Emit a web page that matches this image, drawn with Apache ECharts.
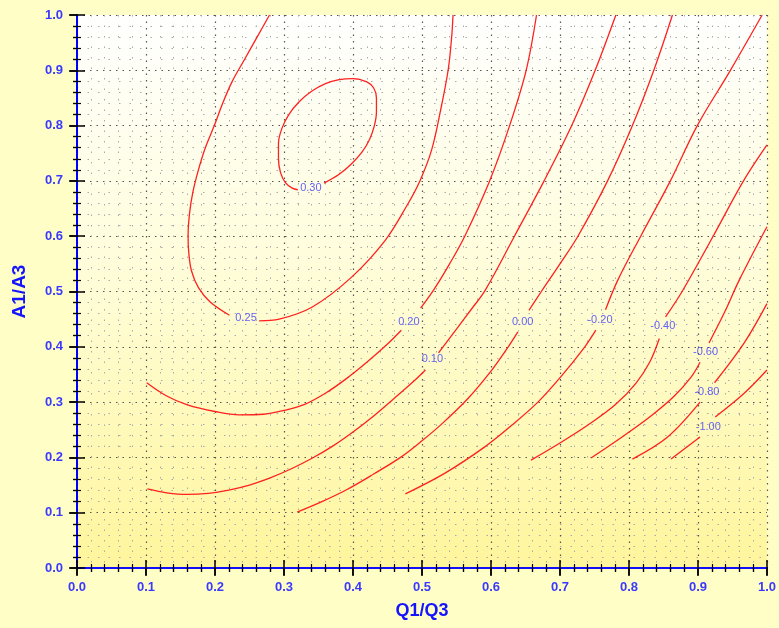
<!DOCTYPE html>
<html>
<head>
<meta charset="utf-8">
<script src="https://cdn.jsdelivr.net/npm/echarts@6/dist/echarts.min.js"></script>
<style>
  html, body { margin: 0; padding: 0; background: #fffec6; }
  #chart { width: 779px; height: 628px; }
</style>
</head>
<body>
<div id="chart"></div>
<script>
// tick labels for both axes
const tickLabels = ['0.0','0.1','0.2','0.3','0.4','0.5','0.6','0.7','0.8','0.9','1.0'];

// contour levels and where their labels sit
const levels = ['0.30','0.25','0.20','0.10','0.00','-0.20','-0.40','-0.60','-0.80','-1.00'];
const labelPts = [[0.339,0.687],[0.245,0.452],[0.481,0.445],[0.515,0.378],[0.646,0.445],
                  [0.758,0.448],[0.849,0.438],[0.911,0.391],[0.913,0.318],[0.915,0.255]];

// contour lines [Q1/Q3, A1/A3], null = gap for the label
const c030 = [[0.358,0.696],[0.380,0.712],[0.398,0.731],[0.413,0.752],[0.424,0.775],[0.431,0.800],
              [0.434,0.825],[0.434,0.850],[0.430,0.868],[0.420,0.879],[0.400,0.885],[0.380,0.883],
              [0.360,0.876],[0.340,0.862],[0.322,0.843],[0.307,0.820],[0.297,0.795],[0.292,0.768],
              [0.292,0.740],[0.295,0.715],[0.302,0.697],[0.312,0.687],[0.320,0.684]];
const c025 = [[0.279,1.0],[0.261,0.96],[0.243,0.92],[0.225,0.88],[0.211,0.84],[0.199,0.80],
              [0.186,0.76],[0.176,0.72],[0.168,0.68],[0.163,0.64],[0.161,0.60],[0.162,0.57],
              [0.166,0.537],[0.176,0.507],[0.193,0.481],[0.221,0.457],null,[0.264,0.447],
              [0.293,0.450],[0.341,0.472],[0.398,0.526],[0.447,0.593],[0.478,0.655],[0.497,0.70],
              [0.514,0.756],[0.527,0.828],[0.538,0.901],[0.543,0.960],[0.545,1.0]];
const c020 = [[0.101,0.335],[0.13,0.311],[0.16,0.295],[0.20,0.283],[0.235,0.277],[0.27,0.278],
              [0.30,0.285],[0.33,0.296],[0.36,0.316],[0.39,0.342],[0.42,0.372],[0.45,0.405],
              [0.47,0.43],null,[0.498,0.470],[0.517,0.503],[0.540,0.550],[0.562,0.6],[0.598,0.7],
              [0.627,0.8],[0.651,0.9],[0.666,1.0]];
const c010 = [[0.102,0.143],[0.13,0.136],[0.16,0.133],[0.19,0.135],[0.22,0.141],[0.25,0.150],
              [0.28,0.163],[0.31,0.179],[0.34,0.198],[0.37,0.220],[0.40,0.246],[0.43,0.275],
              [0.46,0.307],[0.49,0.340],[0.505,0.358],null,[0.524,0.389],[0.550,0.432],[0.571,0.467],
              [0.592,0.503],[0.634,0.6],[0.677,0.7],[0.717,0.8],[0.751,0.9],[0.781,1.0]];
const c000 = [[0.319,0.101],[0.355,0.120],[0.390,0.141],[0.430,0.170],[0.470,0.201],[0.500,0.230],
              [0.530,0.262],[0.567,0.307],[0.600,0.356],[0.625,0.400],[0.639,0.427],null,
              [0.655,0.466],[0.673,0.5],[0.700,0.550],[0.726,0.6],[0.769,0.7],[0.805,0.8],
              [0.836,0.9],[0.863,1.0]];
const cm020 = [[0.476,0.134],[0.534,0.172],[0.591,0.219],[0.630,0.258],[0.668,0.300],[0.702,0.347],
               [0.736,0.400],[0.752,0.430],null,[0.766,0.467],[0.784,0.521],[0.817,0.6],[0.860,0.7],
               [0.899,0.8],[0.947,0.9],[0.993,1.0]];
const cm040 = [[0.658,0.195],[0.70,0.226],[0.74,0.258],[0.78,0.295],[0.81,0.334],[0.83,0.372],
               [0.844,0.415],null,[0.853,0.454],[0.877,0.5],[0.922,0.6],[0.966,0.7],[1.0,0.765]];
const cm060 = [[0.745,0.199],[0.79,0.237],[0.83,0.273],[0.865,0.31],[0.89,0.345],[0.903,0.372],
               null,[0.916,0.407],[0.938,0.461],[0.960,0.521],[1.0,0.617]];
const cm080 = [[0.805,0.197],[0.856,0.237],[0.903,0.300],null,[0.924,0.335],[0.967,0.407],[1.0,0.478]];
const cm100 = [[0.861,0.197],[0.903,0.237],null,[0.925,0.273],[0.967,0.316],[1.0,0.358]];

const contours = [c030, c025, c020, c010, c000, cm020, cm040, cm060, cm080, cm100];

const labelBlue = '#3a3aff';
const nameBlue = '#1414ff';
const fmt = v => tickLabels[Math.round(v * 10)];

// extra axis used only to draw ticks on the inside of the frame
function tickAxis(extra) {
    return Object.assign({
        type: 'value', min: 0, max: 1, interval: 0.1,
        axisLine: { show: false },
        axisLabel: { show: false },
        splitLine: { show: false },
        axisTick: { show: true, inside: true, length: 8, lineStyle: { color: '#000', width: 1.5 } },
        minorTick: { show: true, splitNumber: 5, length: 4, lineStyle: { color: '#000', width: 1.2 } }
    }, extra);
}

let series = contours.map(function (c, i) {
    return {
        name: levels[i],
        type: 'line',
        data: c.map(p => p ? p : [null, null]),
        connectNulls: false,
        smooth: 0.35,
        showSymbol: false,
        symbol: 'none',
        lineStyle: { color: '#ff2020', width: 1.3 },
        z: 5,
        silent: true
    };
});

series.push({
    type: 'scatter',
    data: labelPts.map((p, i) => ({ value: p, name: levels[i] })),
    symbolSize: 1,
    itemStyle: { color: 'rgba(0,0,0,0)' },
    label: {
        show: true, position: 'inside', formatter: '{b}',
        color: labelBlue, fontSize: 11, fontFamily: 'Liberation Sans, Arial, sans-serif'
    },
    z: 6,
    silent: true
});

let chart = echarts.init(document.getElementById('chart'));
let option = {
    backgroundColor: '#fffec6',
    animation: false,
    grid: {
        left: 77, right: 9, top: 15, bottom: 60,
        show: true,
        borderWidth: 0,
        backgroundColor: new echarts.graphic.LinearGradient(0, 0, 0, 1, [
            { offset: 0, color: '#ffffff' },
            { offset: 0.5, color: '#fffdd6' },
            { offset: 1, color: '#fff59c' }
        ])
    },
    xAxis: [
        {
            type: 'value', min: 0, max: 1, interval: 0.1, position: 'bottom',
            name: 'Q1/Q3', nameLocation: 'middle', nameGap: 34,
            nameTextStyle: { color: nameBlue, fontWeight: 'bold', fontSize: 18, fontFamily: 'Liberation Sans, Arial' },
            axisLine: { show: true, lineStyle: { color: '#0000ff', width: 2 } },
            axisTick: { show: true, length: 7, lineStyle: { color: '#000', width: 1.5 } },
            minorTick: { show: true, splitNumber: 5, length: 4, lineStyle: { color: '#000', width: 1.2 } },
            axisLabel: { formatter: fmt, color: labelBlue, fontSize: 13, fontWeight: 'bold', margin: 13,
                         fontFamily: 'Liberation Sans, Arial' },
            splitLine: { show: true, lineStyle: { color: '#555', width: 1.2, type: [1.5, 5] } },
            minorSplitLine: { show: true, lineStyle: { color: '#aaa', width: 1, type: [1.5, 9] } }
        },
        tickAxis({ position: 'bottom' }),
        tickAxis({ position: 'top', axisLine: { show: true, lineStyle: { color: '#1010ff', width: 2 } } })
    ],
    yAxis: [
        {
            type: 'value', min: 0, max: 1, interval: 0.1, position: 'left',
            name: 'A1/A3', nameLocation: 'middle', nameGap: 48,
            nameTextStyle: { color: nameBlue, fontWeight: 'bold', fontSize: 19, fontFamily: 'Liberation Sans, Arial' },
            axisLine: { show: true, lineStyle: { color: '#000080', width: 2 } },
            axisTick: { show: true, length: 7, lineStyle: { color: '#000', width: 1.5 } },
            minorTick: { show: true, splitNumber: 5, length: 4, lineStyle: { color: '#000', width: 1.2 } },
            axisLabel: { formatter: fmt, color: labelBlue, fontSize: 13, fontWeight: 'bold', margin: 14,
                         fontFamily: 'Liberation Sans, Arial' },
            splitLine: { show: true, lineStyle: { color: '#555', width: 1.2, type: [1.5, 5] } },
            minorSplitLine: { show: true, lineStyle: { color: '#aaa', width: 1, type: [1.5, 9] } }
        },
        tickAxis({ position: 'left' }),
        tickAxis({ position: 'right', axisLine: { show: true, lineStyle: { color: '#0000ff', width: 2 } } })
    ],
    series: series
};
chart.setOption(option);
window.addEventListener('resize', function () {
    chart.resize();
});
</script>
</body>
</html>
